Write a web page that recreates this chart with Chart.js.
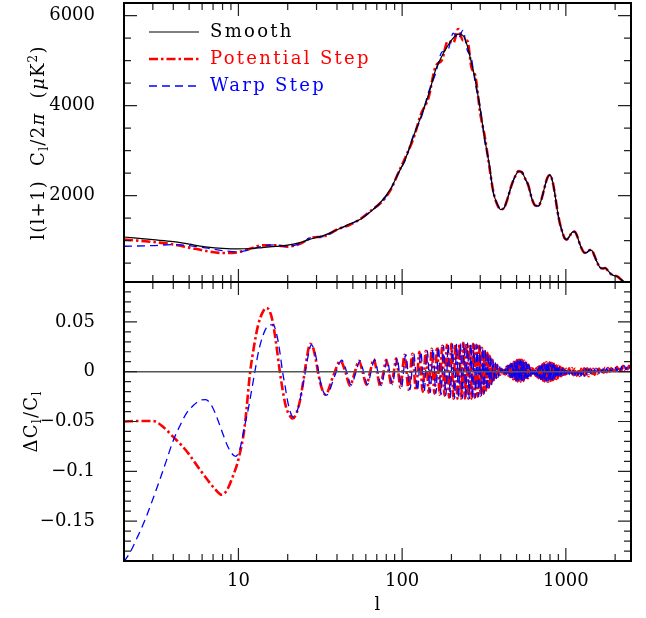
<!DOCTYPE html>
<html>
<head>
<meta charset="utf-8">
<script src="https://cdn.jsdelivr.net/npm/chart.js@4.4.1/dist/chart.umd.min.js"></script>
<style>
  html, body { margin: 0; padding: 0; background: #fff; }
  canvas { display: block; }
</style>
</head>
<body>
<canvas id="cmb" width="646" height="618"></canvas>
<script>
// ---------- angular power spectrum, l(l+1)C_l/2pi in muK^2 ----------
const spectrumEll = [2, 3, 4, 5, 6.5, 8, 10, 12, 14, 17, 20, 24, 28, 33, 40, 48, 56, 65, 75, 85,
  95, 105, 118, 130, 145, 160, 175, 190, 205, 220, 235, 250, 265, 280, 300, 320, 340, 360, 380, 400,
  420, 440, 465, 490, 515, 540, 565, 590, 620, 650, 680, 710, 740, 770, 800, 830, 860, 890, 920, 950,
  980, 1010, 1050, 1090, 1130, 1170, 1210, 1250, 1300, 1350, 1400, 1450, 1500, 1560, 1620, 1680, 1740, 1800, 1870, 1940,
  2010, 2080, 2160, 2240, 2320, 2400, 2480];

const smoothSpectrum = [1080, 1020, 978, 920, 856, 828, 816, 825, 845, 870, 900, 960, 1040, 1110, 1240, 1372, 1480, 1660, 1880, 2150,
  2500, 2830, 3340, 3750, 4240, 4790, 5100, 5330, 5500, 5590, 5560, 5330, 4950, 4570, 3900, 3250, 2700, 2080, 1820, 1690,
  1730, 1930, 2220, 2430, 2540, 2520, 2370, 2230, 1930, 1780, 1770, 1920, 2170, 2390, 2460, 2310, 2000, 1640, 1380, 1200,
  1060, 1020, 1090, 1180, 1200, 1110, 950, 820, 730, 740, 790, 770, 650, 500, 400, 380, 390, 340, 270, 230,
  215, 195, 140, 100, 70, 50, 30];

const potentialSpectrum = [1026, 970, 914, 844, 763, 725, 744, 832, 895, 893, 866, 933, 1066, 1090, 1248, 1353, 1488, 1675, 1860, 2125,
  2515, 2860, 3300, 3800, 4180, 4870, 5010, 5430, 5390, 5700, 5450, 5440, 4850, 4660, 3830, 3300, 2670, 2100, 1810, 1695,
  1732, 1925, 2225, 2425, 2548, 2510, 2375, 2225, 1930, 1780, 1770, 1922, 2168, 2392, 2458, 2312, 1998, 1642, 1378, 1200,
  1060, 1020, 1090, 1180, 1200, 1110, 950, 820, 730, 740, 790, 770, 650, 500, 400, 380, 390, 340, 270, 230,
  215, 195, 140, 100, 70, 50, 30];

const warpSpectrum = [874, 889, 911, 888, 831, 777, 749, 808, 874, 904, 873, 936, 1068, 1088, 1244, 1356, 1487, 1665, 1856, 2135,
  2505, 2800, 3380, 3700, 4300, 4710, 5190, 5230, 5610, 5480, 5670, 5230, 5050, 4480, 3970, 3200, 2730, 2070, 1825, 1688,
  1728, 1935, 2215, 2435, 2535, 2525, 2365, 2235, 1928, 1782, 1768, 1918, 2172, 2388, 2462, 2308, 2002, 1638, 1382, 1198,
  1060, 1020, 1090, 1180, 1200, 1110, 950, 820, 730, 740, 790, 770, 650, 500, 400, 380, 390, 340, 270, 230,
  215, 195, 140, 100, 70, 50, 30];

// ---------- fractional difference Delta C_l / C_l ----------
const smoothEll = [2, 2500];
const smoothDelta = [0, 0];

const potentialEll = [2, 2.5, 3, 3.5, 4, 4.5, 5, 5.8, 6.5, 7.3, 7.9, 8.5, 9.2, 10, 10.9, 11.8, 12.5, 13.2, 14, 14.8,
  15.5, 16.2, 17.1, 17.9, 18.7, 19.5, 20.4, 21.5, 22.7, 23.7, 24.6, 25.4, 26.3, 27.4, 28.6, 29.7, 31, 32.5, 34, 38,
  42, 45, 48, 51.3, 54.5, 57.5, 60.5, 63.8, 67, 70.3, 73.5, 76.8, 80, 83, 86, 89, 92, 94.8, 97.5,
  103.5, 109.5, 115.5, 121.5, 127.5, 133.5, 139.5, 145.5, 151.5, 157.5, 163.5, 169.5, 175.5, 181.5, 187.5, 193.5,
  199.5, 205.5, 211.5, 217.5, 223.5, 229.5, 235.5, 241.5, 247.5, 253.5, 259.5, 265.5, 271.5, 277.5, 283.5, 289.5,
  295.5, 301.5, 307.5, 313.5, 319.5, 325.5, 331.5, 337.5, 343.5, 349.5, 355.5, 361.5, 367.5, 373.5, 379.5, 385.5,
  391.5, 397.5, 403.5, 409.5];

const potentialDelta = [-0.050, -0.0495, -0.0495, -0.056, -0.0655, -0.074, -0.083, -0.098, -0.109, -0.119, -0.1235, -0.119, -0.106, -0.088, -0.056, 0.0, 0.027, 0.047, 0.059, 0.064,
  0.061, 0.050, 0.025, 0.0, -0.020, -0.035, -0.043, -0.047, -0.041, -0.030, -0.015, 0.0, 0.016, 0.028, 0.024, 0.012, -0.005, -0.018, -0.023, -0.004,
  0.011, 0.0, -0.014, -0.001, 0.011, -0.001, -0.013, 0.0, 0.0125, -0.001, -0.0144, -0.001, 0.012, -0.001, -0.013, 0.0, 0.0135, -0.001, -0.016,
  0.017, -0.018, 0.018, -0.019, 0.020, -0.020, 0.021, -0.021, 0.023, -0.022, 0.025, -0.023, 0.026, -0.024, 0.027, -0.026,
  0.028, -0.027, 0.028, -0.027, 0.028, -0.027, 0.029, -0.027, 0.029, -0.027, 0.028, -0.027, 0.028, -0.026, 0.027, -0.025,
  0.026, -0.024, 0.024, -0.022, 0.022, -0.019, 0.019, -0.016, 0.016, -0.013, 0.012, -0.010, 0.009, -0.007, 0.007, -0.005,
  0.005, -0.003, 0.003, -0.002];

const warpEll = [2, 2.2, 2.4, 2.7, 3, 3.3, 3.6, 4, 4.4, 4.8, 5.3, 5.8, 6.3, 6.8, 7.35, 7.9, 8.5, 9.1, 9.6, 10.1,
  10.5, 11, 11.5, 12, 12.6, 13.3, 14.1, 14.8, 15.5, 16.3, 17.1, 17.9, 18.6, 19.3, 20, 20.8, 21.6, 22.4, 23.2, 24.2,
  25.4, 26.6, 27.9, 29, 30, 31, 32.3, 34.5, 38.8, 42.8, 45.8, 48.8, 52.1, 55.3, 58.3, 61.4, 64.6, 67.9, 71.2, 74.5,
  77.8, 81, 84.1, 87.2, 90.2, 93.3, 96.1, 99,
  105.3, 111.6, 117.8, 124, 130.1, 136.3, 142.4, 148.5, 154.6, 160.7, 166.8, 172.9, 179, 185, 191, 197,
  203, 209, 215, 221, 227, 233, 239, 245, 251, 257, 263, 269, 275, 281, 287, 293,
  299, 305, 311, 317, 323, 329, 335, 341, 347, 353, 359, 365, 371, 377, 383, 389,
  395, 401, 407];

const warpDelta = [-0.191, -0.180, -0.167, -0.148, -0.128, -0.109, -0.091, -0.069, -0.054, -0.042, -0.034, -0.029, -0.028, -0.033, -0.045, -0.059, -0.073, -0.082, -0.085, -0.080,
  -0.069, -0.052, -0.037, -0.020, 0.0, 0.021, 0.036, 0.044, 0.047, 0.047, 0.038, 0.020, 0.0, -0.015, -0.030, -0.041, -0.0455, -0.043, -0.036, -0.022,
  -0.004, 0.015, 0.027, 0.022, 0.012, -0.002, -0.016, -0.0235, -0.004, 0.0115, 0.0, -0.0135, -0.001, 0.011, -0.001, -0.013, 0.0, 0.012, -0.001, -0.014,
  -0.001, 0.012, -0.001, -0.013, 0.0, 0.0135, -0.001, -0.016,
  0.017, -0.018, 0.018, -0.019, 0.020, -0.020, 0.021, -0.021, 0.023, -0.022, 0.025, -0.023, 0.026, -0.024, 0.027, -0.026,
  0.028, -0.027, 0.028, -0.027, 0.028, -0.027, 0.029, -0.027, 0.029, -0.027, 0.028, -0.027, 0.028, -0.026, 0.027, -0.025,
  0.026, -0.024, 0.024, -0.022, 0.022, -0.019, 0.019, -0.016, 0.016, -0.013, 0.012, -0.010, 0.009, -0.007, 0.007, -0.005,
  0.005, -0.003, 0.003];

// damping tail: both models sampled at these multipoles
const highEll = [415, 419, 424, 428, 433, 437, 442, 446, 451, 456, 461, 466, 471, 476, 481, 486, 491, 496, 501, 506,
  512, 517, 523, 528, 534, 539, 545, 551, 557, 563, 569, 575, 581, 587, 593, 600, 606, 612, 619, 625,
  632, 638, 645, 652, 659, 666, 673, 680, 687, 694, 702, 709, 717, 724, 732, 740, 748, 756, 764, 772,
  780, 788, 797, 805, 814, 822, 831, 840, 849, 858, 867, 876, 885, 894, 904, 913, 923, 933, 943, 953,
  963, 973, 984, 994, 1005,
  1026, 1048, 1070, 1093, 1116, 1140, 1164, 1189, 1214, 1240, 1266, 1293, 1321, 1349, 1378, 1407, 1437,
  1468, 1499, 1531, 1563, 1596, 1630, 1665, 1700, 1736, 1773, 1811, 1849, 1888, 1928, 1969, 2011, 2054, 2098, 2142, 2188,
  2234, 2282, 2330, 2380, 2430, 2480];

const potentialHigh = [0.003, -0.0022, 0.004, -0.0028, 0.005, -0.0032, 0.006, -0.004, 0.007, -0.0055, 0.008, -0.0065, 0.009, -0.0075, 0.010, -0.0085, 0.011, -0.009, 0.0115, -0.0098,
  0.012, -0.010, 0.012, -0.010, 0.0118, -0.0098, 0.0115, -0.0092, 0.011, -0.0085, 0.010, -0.0075, 0.009, -0.0065, 0.007, -0.0052, 0.005, -0.004, 0.0035, -0.0032,
  0.003, -0.0032, 0.003, -0.004, 0.0035, -0.0052, 0.0045, -0.0065, 0.0055, -0.0075, 0.0065, -0.0085, 0.0075, -0.009, 0.0085, -0.0098, 0.009, -0.010, 0.0095, -0.010,
  0.0095, -0.0098, 0.0095, -0.0092, 0.009, -0.0088, 0.0085, -0.0082, 0.008, -0.0078, 0.0075, -0.0072, 0.007, -0.0065, 0.006, -0.0055, 0.005, -0.0045, 0.004, -0.0035,
  0.0035, -0.003, 0.003, -0.0027, 0.003,
  -0.003, 0.0034, -0.0034, 0.0035, -0.0036, 0.003, -0.004, 0.0027, -0.0042, 0.003, -0.0048, 0.0034, -0.005, 0.0033, -0.0045, 0.0028, -0.004,
  0.0028, -0.003, 0.003, -0.002, 0.0032, -0.0015, 0.0038, -0.001, 0.004, -0.0005, 0.0036, 0.0, 0.0034, 0.0002, 0.004, 0.0006, 0.005, 0.0008, 0.0052, 0.0013,
  0.006, 0.0018, 0.0058, 0.0024, 0.0058, 0.003];

const warpHigh = [-0.0015, 0.003, -0.0022, 0.0045, -0.0028, 0.0055, -0.0035, 0.0062, -0.0045, 0.0072, -0.0058, 0.008, -0.0065, 0.0088, -0.0075, 0.0098, -0.0085, 0.0105, -0.009, 0.011,
  -0.0095, 0.0115, -0.0095, 0.0113, -0.0095, 0.011, -0.009, 0.0105, -0.0085, 0.0098, -0.0078, 0.0088, -0.0065, 0.0075, -0.0055, 0.006, -0.0042, 0.0045, -0.0032, 0.0035,
  -0.0028, 0.0028, -0.0032, 0.0032, -0.0042, 0.0038, -0.0055, 0.0048, -0.0065, 0.0055, -0.0075, 0.0065, -0.0085, 0.0072, -0.009, 0.008, -0.0095, 0.0085, -0.0095, 0.009,
  -0.0095, 0.009, -0.009, 0.0088, -0.0085, 0.0082, -0.008, 0.0078, -0.0075, 0.0072, -0.007, 0.0068, -0.0065, 0.006, -0.0055, 0.005, -0.0045, 0.0042, -0.0038, 0.0035,
  -0.003, 0.003, -0.0028, 0.0028, -0.0025,
  0.003, -0.003, 0.0033, -0.0033, 0.0031, -0.0036, 0.0026, -0.0038, 0.0026, -0.0043, 0.003, -0.0047, 0.0032, -0.0045, 0.0028, -0.004, 0.0026,
  -0.0033, 0.0028, -0.0023, 0.0029, -0.0016, 0.0033, -0.0011, 0.0038, -0.0006, 0.0036, -0.0002, 0.0033, 0.0001, 0.0034, 0.0004, 0.0043, 0.0007, 0.0048, 0.001, 0.0053,
  0.0015, 0.0058, 0.002, 0.0054, 0.0026, 0.0058];

// ---------- axis ticks ----------
const xMajorTicks = [10, 100, 1000];
const xMinorTicks = [2, 3, 4, 5, 6, 7, 8, 9, 20, 30, 40, 50, 60, 70, 80, 90, 200, 300, 400, 500, 600, 700, 800, 900, 2000];
const topMajorTicks = [2000, 4000, 6000];
const topMinorTicks = [500, 1000, 1500, 2500, 3000, 3500, 4500, 5000, 5500];
const bottomMajorTicks = [-0.15, -0.1, -0.05, 0, 0.05];
const bottomMinorTicks = [-0.18, -0.17, -0.16, -0.14, -0.13, -0.12, -0.11, -0.09, -0.08, -0.07, -0.06,
  -0.04, -0.03, -0.02, -0.01, 0.01, 0.02, 0.03, 0.04, 0.06, 0.07, 0.08];

const seriesNames = ['Smooth', 'Potential Step', 'Warp Step'];

// ---------- styling ----------
const FONT = "'DejaVu Serif', serif";
const styles = {
  smooth: { color: '#000000', width: 1.2, dash: [] },
  potential: { color: '#ff0000', width: 2.6, dash: [9, 3, 2.5, 3] },
  warp: { color: '#0000ff', width: 1.3, dash: [8, 5] }
};

const toPoints = (xs, ys) => xs.map((x, i) => ({ x, y: ys[i] }));
const line = (label, pts, axis, st, order) => ({
  label, data: pts, yAxisID: axis, order,
  borderColor: st.color, borderWidth: st.width, borderDash: st.dash,
  pointRadius: 0, fill: false, cubicInterpolationMode: 'monotone'
});

const datasets = [
  line(seriesNames[0], toPoints(spectrumEll, smoothSpectrum), 'yTop', styles.smooth, 0),
  line(seriesNames[1], toPoints(spectrumEll, potentialSpectrum), 'yTop', styles.potential, 2),
  line(seriesNames[2], toPoints(spectrumEll, warpSpectrum), 'yTop', styles.warp, 1),
  line(seriesNames[0], toPoints(smoothEll, smoothDelta), 'yBot', { color: '#555555', width: 1.5, dash: [] }, 0),
  line(seriesNames[1], toPoints(potentialEll, potentialDelta).concat(toPoints(highEll, potentialHigh)), 'yBot', styles.potential, 2),
  line(seriesNames[2], toPoints(warpEll, warpDelta).concat(toPoints(highEll, warpHigh)), 'yBot', styles.warp, 1)
];

const minus = v => (v < 0 ? '\u2212' : '') + String(Math.abs(v));
const noPad = s => { s.paddingTop = 0; s.paddingBottom = 0; s.paddingLeft = 0; s.paddingRight = 0; };

// frame around each panel with inward tick marks on all four sides
const panelFrames = {
  id: 'panelFrames',
  afterDraw(chart) {
    const { ctx, chartArea: a, scales } = chart;
    const xs = scales.x;
    const panels = [
      [scales.yTop, topMajorTicks, topMinorTicks],
      [scales.yBot, bottomMajorTicks, bottomMinorTicks]
    ];
    ctx.save();
    ctx.setLineDash([]);
    for (const [ys, major, minor] of panels) {
      const top = ys.top, bottom = ys.bottom;
      ctx.strokeStyle = '#222';
      ctx.lineWidth = 1.2;
      ctx.beginPath();
      const yTick = (v, len) => {
        const p = ys.getPixelForValue(v);
        ctx.moveTo(a.left, p); ctx.lineTo(a.left + len, p);
        ctx.moveTo(a.right, p); ctx.lineTo(a.right - len, p);
      };
      const xTick = (v, len) => {
        const p = xs.getPixelForValue(v);
        ctx.moveTo(p, top); ctx.lineTo(p, top + len);
        ctx.moveTo(p, bottom); ctx.lineTo(p, bottom - len);
      };
      major.forEach(v => yTick(v, 13));
      minor.forEach(v => yTick(v, 7));
      xMajorTicks.forEach(v => xTick(v, 13));
      xMinorTicks.forEach(v => xTick(v, 7));
      ctx.stroke();
      ctx.strokeStyle = '#000';
      ctx.lineWidth = 2;
      ctx.strokeRect(a.left, top, a.right - a.left, bottom - top);
    }
    ctx.restore();
  }
};

// rotated y-axis titles with sub/superscripts
function drawRuns(ctx, runs, cx, cy, spacing) {
  ctx.save();
  ctx.translate(cx, cy);
  ctx.rotate(-Math.PI / 2);
  ctx.textAlign = 'left';
  ctx.textBaseline = 'alphabetic';
  ctx.fillStyle = '#000';
  const fontOf = r => (r.italic ? 'italic ' : '') + (r.size || 18) + 'px ' + FONT;
  let total = 0;
  for (const r of runs) {
    ctx.font = fontOf(r);
    ctx.letterSpacing = spacing;
    r.w = ctx.measureText(r.t).width;
    total += r.w;
  }
  let x = -total / 2;
  for (const r of runs) {
    ctx.font = fontOf(r);
    ctx.letterSpacing = spacing;
    ctx.fillText(r.t, x, 6.5 + (r.dy || 0));
    x += r.w;
  }
  ctx.restore();
}

const axisTitles = {
  id: 'axisTitles',
  afterDraw(chart) {
    const { ctx, scales } = chart;
    const top = scales.yTop, bot = scales.yBot;
    drawRuns(ctx, [
      { t: 'l(l+1)  C' }, { t: 'l', size: 12, dy: 4 }, { t: '/2' }, { t: '\u03c0', italic: true },
      { t: '  (' }, { t: '\u03bc', italic: true }, { t: 'K' }, { t: '2', size: 12, dy: -7 }, { t: ')' }
    ], 37, (top.top + top.bottom) / 2, '1.3px');
    drawRuns(ctx, [
      { t: '\u0394C' }, { t: 'l', size: 12, dy: 4 }, { t: '/C' }, { t: 'l', size: 12, dy: 4 }
    ], 30, (bot.top + bot.bottom) / 2, '1.3px');
  }
};

// key in the upper-left corner of the top panel
const seriesKey = {
  id: 'seriesKey',
  afterDraw(chart) {
    const { ctx, chartArea: a } = chart;
    const rows = [styles.smooth, styles.potential, styles.warp];
    ctx.save();
    rows.forEach((st, i) => {
      const y = a.top + 29 + i * 27;
      ctx.beginPath();
      ctx.setLineDash(st.dash);
      ctx.lineWidth = st.width;
      ctx.strokeStyle = st.color;
      ctx.moveTo(a.left + 25, y);
      ctx.lineTo(a.left + 75, y);
      ctx.stroke();
      ctx.setLineDash([]);
      ctx.font = '18px ' + FONT;
      ctx.letterSpacing = '2.3px';
      ctx.fillStyle = st.color;
      ctx.textBaseline = 'middle';
      ctx.textAlign = 'left';
      ctx.fillText(seriesNames[i], a.left + 86, y);
    });
    ctx.restore();
  }
};

new Chart(document.getElementById('cmb'), {
  type: 'line',
  data: { datasets },
  options: {
    responsive: false,
    animation: false,
    devicePixelRatio: 1,
    layout: { padding: { top: 3, right: 15, bottom: 0, left: 0 } },
    plugins: { legend: { display: false }, tooltip: { enabled: false } },
    scales: {
      x: {
        type: 'logarithmic', position: 'bottom', min: 2, max: 2500,
        afterBuildTicks: s => { s.ticks = xMajorTicks.map(v => ({ value: v })); },
        afterFit: s => { s.height = 57; noPad(s); },
        grid: { display: false }, border: { display: false },
        ticks: { font: { family: FONT, size: 18 }, color: '#000', padding: 2, maxRotation: 0, autoSkip: false,
                 callback: v => String(v) },
        title: { display: true, text: 'l', color: '#000', font: { family: FONT, size: 18 }, padding: { top: 0, bottom: 2 } }
      },
      yTop: {
        type: 'linear', position: 'left', stack: 'panels', stackWeight: 1, weight: 2,
        min: 80, max: 6280,
        afterBuildTicks: s => { s.ticks = topMajorTicks.map(v => ({ value: v })); },
        afterFit: s => { s.width = 124; noPad(s); },
        grid: { display: false }, border: { display: false },
        ticks: { font: { family: FONT, size: 18 }, color: '#000', padding: 21, callback: v => String(v) }
      },
      yBot: {
        type: 'linear', position: 'left', stack: 'panels', stackWeight: 1, weight: 1,
        min: -0.19, max: 0.09,
        afterBuildTicks: s => { s.ticks = bottomMajorTicks.map(v => ({ value: v })); },
        afterFit: s => { s.width = 124; noPad(s); },
        grid: { display: false }, border: { display: false },
        ticks: { font: { family: FONT, size: 18 }, color: '#000', padding: 21, callback: v => minus(v) }
      }
    }
  },
  plugins: [panelFrames, axisTitles, seriesKey]
});
</script>
</body>
</html>
